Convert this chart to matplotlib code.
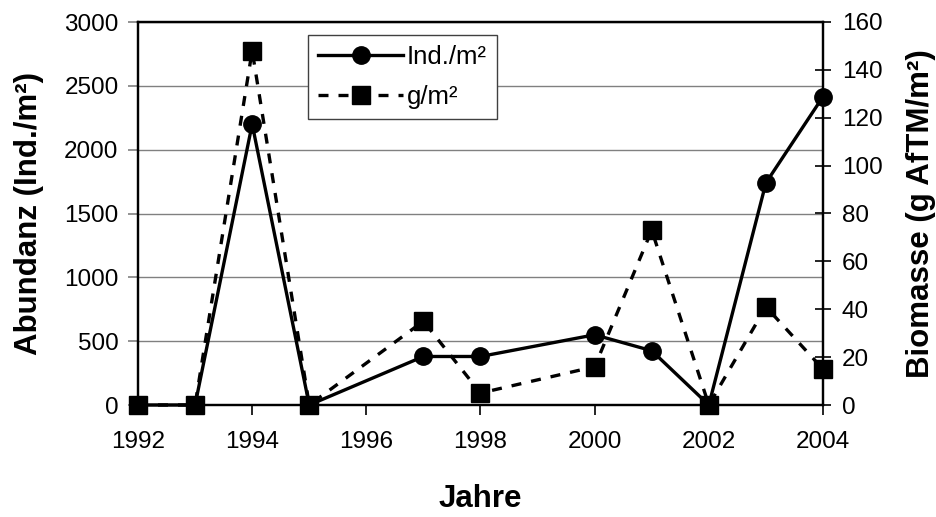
import matplotlib
matplotlib.use('Agg')
import matplotlib.pyplot as plt

# data
years = [1992, 1993, 1994, 1995, 1997, 1998, 2000, 2001, 2002, 2003, 2004]
ind_m2 = [0, 0, 2200, 0, 380, 380, 550, 425, 0, 1740, 2415]
g_m2 = [0, 0, 148, 0, 35, 5, 16, 73, 0, 41, 15]

x_ticks = list(range(1992, 2005, 2))
left_ticks = list(range(0, 3001, 500))
right_ticks = list(range(0, 161, 20))

plt.rcParams['font.family'] = ['Liberation Sans', 'DejaVu Sans']

W, H = 936, 517
x0, x1, y0, y1 = 138, 823, 22, 405   # plot area in pixels

fig = plt.figure(figsize=(W / 100, H / 100), dpi=100)
ax = fig.add_axes([x0 / W, 1 - y1 / H, (x1 - x0) / W, (y1 - y0) / H])
ax2 = ax.twinx()

ax.set_ylim(0, 3000)
ax.set_xlim(1992, 2004)
ax2.set_ylim(0, 160)

# grid lines on left-axis ticks
for v in left_ticks[1:]:
    ax.axhline(v, color='#808080', lw=1.0, zorder=0)

l1, = ax.plot(years, ind_m2, color='black', lw=2.4, marker='o', ms=12.5,
              label='Ind./m²', zorder=3, clip_on=False)
l2, = ax2.plot(years, g_m2, color='black', lw=2.4, ls=(0, (3, 3)),
               marker='s', ms=13, label='g/m²', zorder=3, clip_on=False)

ax.set_xticks(x_ticks)
ax.set_yticks(left_ticks)
ax2.set_yticks(right_ticks)

ax.tick_params(axis='x', labelsize=17.5, direction='out', length=7, width=1.2, pad=12)
ax.tick_params(axis='y', labelsize=17.5, direction='out', length=7, width=1.2,
               color='#808080', pad=7)
ax2.tick_params(axis='y', labelsize=17.5, direction='inout', length=11, width=1.2, pad=8)

for a in (ax, ax2):
    for sp in a.spines.values():
        sp.set_linewidth(1.6)

ax.set_ylabel('Abundanz (Ind./m²)', fontsize=22.5, fontweight='bold', va='center')
ax.yaxis.set_label_coords((29 - x0) / (x1 - x0), 0.5)
ax2.set_ylabel('Biomasse (g AfTM/m²)', fontsize=22.5, fontweight='bold',
               rotation=90, va='center')
ax2.yaxis.set_label_coords((921 - x0) / (x1 - x0), 0.5)
fig.text(480 / W, 1 - 499 / H, 'Jahre', fontsize=22.5,
         fontweight='bold', ha='center', va='center')

leg = ax.legend(handles=[l1, l2], loc='upper left',
                bbox_to_anchor=((308 - x0) / (x1 - x0), 1 - (35 - y0) / (y1 - y0)),
                fontsize=18.5, frameon=True, fancybox=False, edgecolor='#404040',
                framealpha=1, handlelength=3.3, borderpad=0.4, labelspacing=0.6,
                handletextpad=0.15, borderaxespad=0)
leg.get_frame().set_linewidth(1.0)
leg.set_zorder(5)

fig.savefig('out.png', dpi=100)
